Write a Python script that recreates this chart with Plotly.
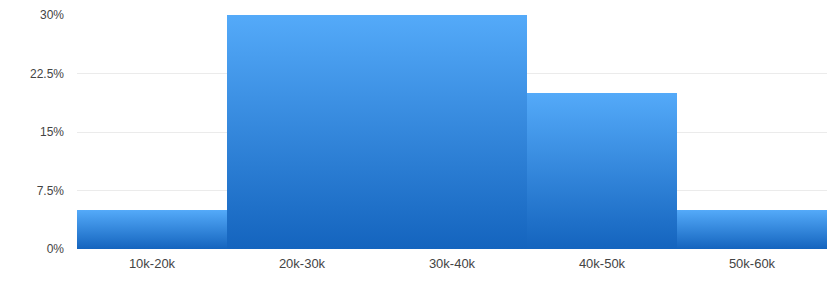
import plotly.graph_objects as go

categories = ["10k-20k", "20k-30k", "30k-40k", "40k-50k", "50k-60k"]
values = [5, 30, 30, 20, 5]
y_tick_vals = [0, 7.5, 15, 22.5, 30]
y_tick_text = ["0%", "7.5%", "15%", "22.5%", "30%"]

TOP = "rgb(84,170,249)"
BOTTOM = "rgb(20,100,190)"

fig = go.Figure()
for i, (cat, v) in enumerate(zip(categories, values)):
    fig.add_trace(go.Scatter(
        x=[i - 0.5, i + 0.5, i + 0.5, i - 0.5, i - 0.5],
        y=[0, 0, v, v, 0],
        mode="lines",
        fill="toself",
        line=dict(width=0),
        fillgradient=dict(type="vertical", colorscale=[[0, BOTTOM], [1, TOP]]),
        name=cat,
        hoverinfo="skip",
        showlegend=False,
    ))

fig.update_layout(
    width=832, height=293,
    margin=dict(l=77, r=5, t=15, b=44),
    paper_bgcolor="white", plot_bgcolor="white",
    font=dict(family="Liberation Sans, Arial, sans-serif", size=12, color="#444"),
    xaxis=dict(
        range=[-0.5, 4.5], tickvals=list(range(len(categories))), ticktext=categories,
        showgrid=False, zeroline=False, showline=False, ticks="", fixedrange=True,
        ticklabelstandoff=5,
        tickfont=dict(size=13, color="#444"),
    ),
    yaxis=dict(
        range=[0, 30], tickvals=y_tick_vals, ticktext=y_tick_text,
        showgrid=True, gridcolor="#ebebeb", gridwidth=1, zeroline=False,
        showline=False, ticks="", ticklabelstandoff=12, fixedrange=True,
        tickfont=dict(size=12, color="#444"),
    ),
    showlegend=False,
)

fig.write_html("out.html")
